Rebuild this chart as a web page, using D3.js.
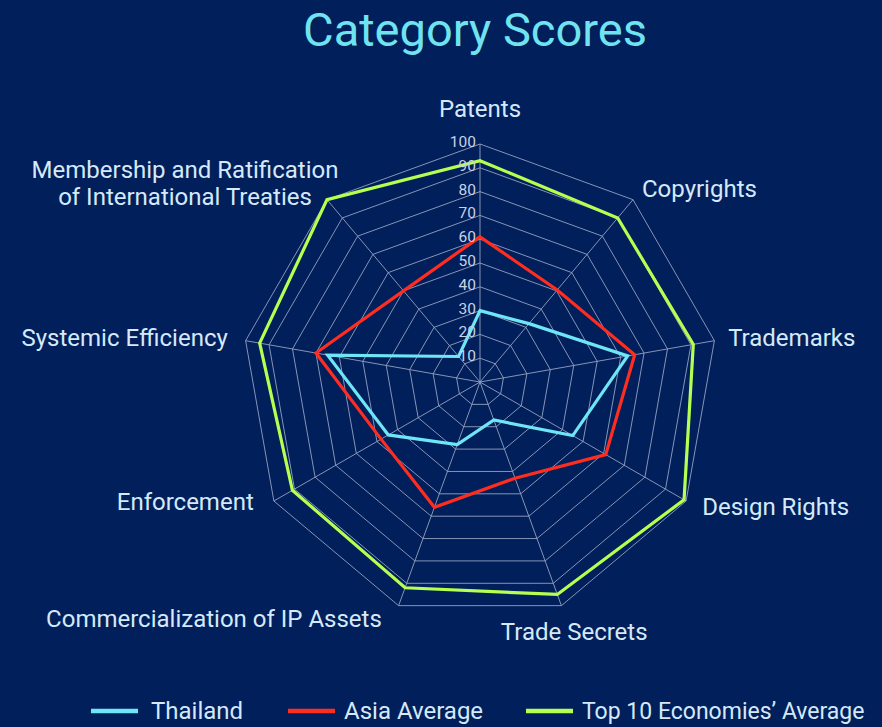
<!DOCTYPE html>
<html><head><meta charset="utf-8">
<script src="https://cdn.jsdelivr.net/npm/d3@7"></script>
<style>
html,body{margin:0;padding:0;background:#011f5b;}
svg{display:block;}
</style></head>
<body>
<svg id="chart" width="882" height="727"></svg>
<script>
const categories = ["Patents","Copyrights","Trademarks","Design Rights","Trade Secrets","Commercialization of IP Assets","Enforcement","Systemic Efficiency","Membership and Ratification of International Treaties"];
const thailand = [30, 32, 63, 45, 17, 28, 44.5, 65, 14];
const asiaAverage = [61, 50.5, 66, 61, 43, 56, 48, 70, 50];
const top10Average = [93, 90, 91, 99, 95, 92, 91, 94, 100];
const seriesNames = ["Thailand","Asia Average","Top 10 Economies\u2019 Average"];
const seriesColors = ["#6fe6f5","#ff2d1f","#b5ff50"];
const tickValues = [10,20,30,40,50,60,70,80,90,100];

const svg = d3.select("#chart");
const W = 882, H = 727, cx = 480, cy = 382, R = 238;
svg.append("rect").attr("width",W).attr("height",H).attr("fill","#011f5b");

const font = "Roboto, 'Open Sans', sans-serif";
const n = categories.length;
const angle = d3.scaleLinear().domain([0,n]).range([0,2*Math.PI]);
const r = d3.scaleLinear().domain([0,100]).range([0,R]);
const pt = (i,v)=>[cx + r(v)*Math.sin(angle(i)), cy - r(v)*Math.cos(angle(i))];

svg.append("text").attr("x",475).attr("y",46).attr("text-anchor","middle")
  .attr("font-family",font).attr("font-size",47).attr("fill","#70e3f0").text("Category Scores");

const grid = svg.append("g");
tickValues.forEach(t=>{
  const pts = d3.range(n).map(i=>pt(i,t));
  grid.append("path").attr("d", d3.line().curve(d3.curveLinearClosed)(pts))
    .attr("fill","none").attr("stroke","#95a2bf").attr("stroke-width",0.9);
});
d3.range(n).forEach(i=>{
  const p = pt(i,100);
  grid.append("line").attr("x1",cx).attr("y1",cy).attr("x2",p[0]).attr("y2",p[1])
    .attr("stroke","#95a2bf").attr("stroke-width",0.9);
});

const allSeries = [thailand, asiaAverage, top10Average];
const lineGen = d3.lineRadial().angle((d,i)=>angle(i)).radius(d=>r(d)).curve(d3.curveLinearClosed);
const sg = svg.append("g").attr("transform",`translate(${cx},${cy})`);
[2,1,0].forEach(k=>{
  sg.append("path").attr("d", lineGen(allSeries[k])).attr("fill","none")
    .attr("stroke",seriesColors[k]).attr("stroke-width",3.2).attr("stroke-linejoin","miter");
});

tickValues.forEach(t=>{
  svg.append("text").attr("x",cx-4).attr("y",cy - r(t) + 3).attr("text-anchor","end")
    .attr("font-family",font).attr("font-size",15.5).attr("fill","#c9d2e3").text(t);
});

const LR = R + 14;
categories.forEach((c,i)=>{
  const a = angle(i), s = Math.sin(a), co = Math.cos(a);
  let x = cx + LR*s, y = cy - LR*co;
  let anchor = "middle";
  if (i===0) { y -= 13; }
  else if (i===4) { x += 8; y += 21; }
  else if (s > 0.1) { anchor = "start"; y += 8; }
  else { anchor = "end"; y += 8; x -= 2; }
  if (i===3) { x += 4; y -= 1; }
  if (i===6) { x -= 6; y -= 6; }
  if (i===5) { x -= 10; }
  if (i===7) { x -= 2; }
  const g = svg.append("text").attr("font-family",font).attr("font-size",24).attr("fill","#d5e9f8");
  if (i===8) {
    const lines = ["Membership and Ratification","of International Treaties"];
    lines.forEach((l,j)=>{
      g.append("tspan").attr("x",185).attr("y",178 + j*27).attr("text-anchor","middle").text(l);
    });
  } else {
    g.attr("x",x).attr("y",y).attr("text-anchor",anchor).text(c);
  }
});

const legendX = [91, 288, 526];
const legendTextDx = [60, 56, 56];
const legendFs = [24, 24, 23];
seriesNames.forEach((nm,k)=>{
  const g = svg.append("g").attr("transform",`translate(${legendX[k]},711)`);
  g.append("line").attr("x1",0).attr("x2",47).attr("y1",0).attr("y2",0)
    .attr("stroke",seriesColors[k]).attr("stroke-width",4.5);
  g.append("text").attr("x",legendTextDx[k]).attr("y",8).attr("font-family",font).attr("font-size",legendFs[k])
    .attr("fill","#d5e9f8").text(nm);
});
</script>
</body></html>
